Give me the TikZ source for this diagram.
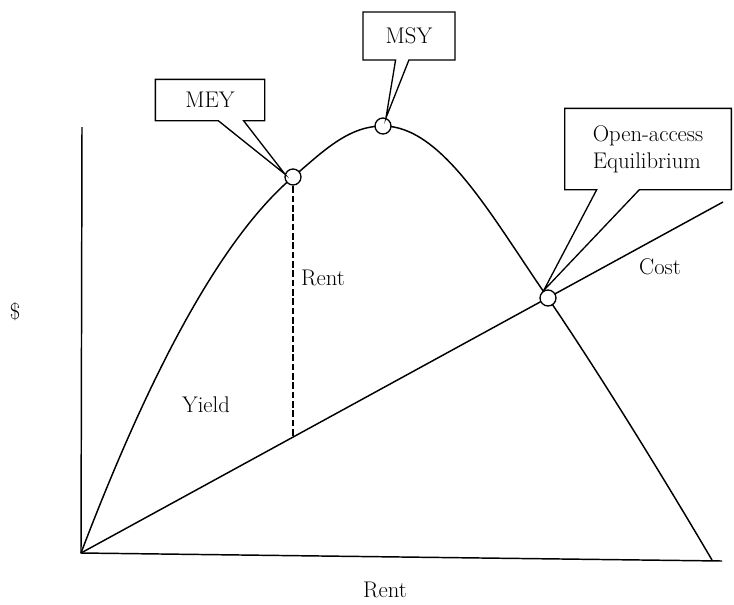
\documentclass[tikz,border=0pt]{standalone}
\usetikzlibrary{shapes.callouts}
\tikzset{
  eqpt/.style={draw, circle, fill=white, inner sep=0pt, minimum size=12pt, line width=1pt},
  tag/.style={rectangle callout, draw, fill=white, line width=1pt, font=\fontsize{17}{20}\selectfont},
  lbl/.style={font=\fontsize{17}{20}\selectfont},
}
\begin{document}
\begin{tikzpicture}[x=0.75pt,y=0.75pt,yscale=-1,xscale=1,line width=1.1pt]
\useasboundingbox (0,0) rectangle (734,604);

%Points on the curves
\coordinate (O) at (81,553);
\coordinate (ytop) at (82,127);
\coordinate (xend) at (722,561);
\coordinate (meyp) at (293,177);
\coordinate (msyp) at (383,126);
\coordinate (oap) at (548,298);
\coordinate (yend) at (712,560);
\coordinate (costend) at (723,202);
\coordinate (rentfoot) at (293,437);

%Axes
\draw (ytop) -- (O) -- (xend);

%Yield curve
\draw (O) .. controls (140,398) and (213,245) .. (meyp)
  .. controls (323,151.5) and (348,126) .. (msyp)
  .. controls (443,126) and (493,219) .. (oap)
  .. controls (598,371.5) and (662,475) .. (yend);

%Cost line
\draw (O) -- (costend);

%Rent
\draw[dash pattern=on 5pt off 2pt] (meyp) -- (rentfoot);

%Circles
\node[eqpt] (mey) at (meyp) {};
\node[eqpt] (msy) at (msyp) {};
\node[eqpt] (oa) at (oap) {};

%Callouts
\node[tag, minimum width=82pt, minimum height=31pt, callout pointer width=19pt,
  callout absolute pointer={(mey.160)}] (meytag) at (210,100) {MEY};
\node[tag, minimum width=69pt, minimum height=36pt, callout pointer width=10pt,
  callout absolute pointer={(msy.70)}] (msytag) at (409,36) {MSY};
\node[tag, minimum width=125pt, minimum height=61pt, callout pointer width=32pt, align=left,
  callout absolute pointer={(oa.120)}] (oatag) at (648,149) {Open-access\\Equilibrium};

% Text Node
\node[lbl] (costlbl) at (660,267) {Cost};
% Text Node
\node[lbl] (rentlbl) at (323,278) {Rent};
% Text Node
\node[lbl] (yieldlbl) at (206,405) {Yield};
% Text Node
\node[lbl] (dollar) at (15,312) {\$};
% Text Node
\node[lbl] (xlbl) at (385,590) {Rent};

\end{tikzpicture}
\end{document}
